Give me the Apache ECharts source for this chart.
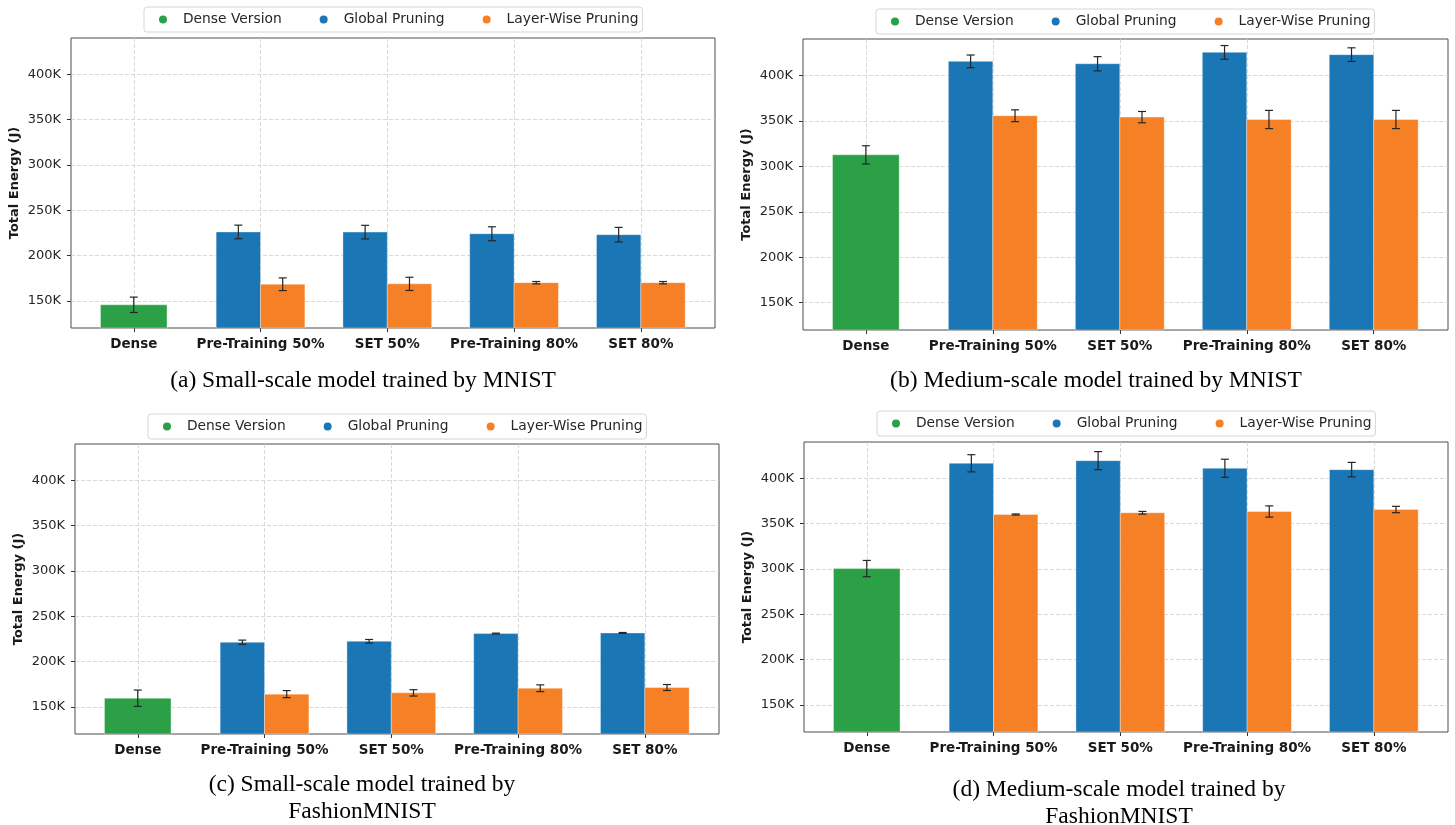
<!DOCTYPE html>
<html>
<head>
<meta charset="utf-8">
<title>Total Energy</title>
<script src="https://cdn.jsdelivr.net/npm/echarts@6/dist/echarts.min.js"></script>
<style>
  html, body { margin: 0; padding: 0; background: #fff; }
  #chart { width: 1455px; height: 825px; }
</style>
</head>
<body>
<div id="chart"></div>
<script>
// Category and tick labels
const categories = ['Dense', 'Pre-Training 50%', 'SET 50%', 'Pre-Training 80%', 'SET 80%'];
const yTicks = [150000, 200000, 250000, 300000, 350000, 400000];
const legendNames = ['Dense Version', 'Global Pruning', 'Layer-Wise Pruning'];

// (a) Small-scale, MNIST
const denseA = [145600];
const denseErrA = [8500];
const globalA = [226000, 225800, 224000, 223000];
const globalErrA = [7500, 7500, 7700, 8000];
const layerA = [168300, 168700, 170000, 170000];
const layerErrA = [7000, 7300, 1300, 1300];

// (b) Medium-scale, MNIST
const denseB = [312600];
const denseErrB = [10000];
const globalB = [415400, 412800, 425300, 422800];
const globalErrB = [7000, 7800, 7500, 7500];
const layerB = [355600, 354100, 351500, 351500];
const layerErrB = [6500, 6200, 10000, 10000];

// (c) Small-scale, FashionMNIST
const denseC = [159500];
const denseErrC = [9000];
const globalC = [221200, 222300, 230800, 231500];
const globalErrC = [2400, 2000, 500, 500];
const layerC = [164000, 165400, 170500, 171300];
const layerErrC = [3900, 3500, 3700, 3300];

// (d) Medium-scale, FashionMNIST
const denseD = [300300];
const denseErrD = [9000];
const globalD = [416500, 419400, 411000, 409500];
const globalErrD = [9500, 10000, 10000, 8000];
const layerD = [360000, 361900, 363300, 365500];
const layerErrD = [600, 1500, 6200, 3500];

const captions = [
  '(a) Small-scale model trained by MNIST',
  '(b) Medium-scale model trained by MNIST',
  '(c) Small-scale model trained by\nFashionMNIST',
  '(d) Medium-scale model trained by\nFashionMNIST'
];

const panels = [
  { dense: denseA, denseErr: denseErrA, global: globalA, globalErr: globalErrA, layer: layerA, layerErr: layerErrA },
  { dense: denseB, denseErr: denseErrB, global: globalB, globalErr: globalErrB, layer: layerB, layerErr: layerErrB },
  { dense: denseC, denseErr: denseErrC, global: globalC, globalErr: globalErrC, layer: layerC, layerErr: layerErrC },
  { dense: denseD, denseErr: denseErrD, global: globalD, globalErr: globalErrD, layer: layerD, layerErr: layerErrD }
];

// Layout of the four panels
const layout = [
  { grid: { left: 71, top: 38, width: 644, height: 290 }, legend: { left: 144, top: 7 }, caption: { x: 363, top: 367 } },
  { grid: { left: 803, top: 39, width: 645, height: 291 }, legend: { left: 876, top: 9 }, caption: { x: 1096, top: 367 } },
  { grid: { left: 75, top: 444, width: 644, height: 290 }, legend: { left: 148, top: 414 }, caption: { x: 362, top: 771 } },
  { grid: { left: 804, top: 442, width: 644, height: 290 }, legend: { left: 877, top: 411 }, caption: { x: 1119, top: 776 } }
];

const colors = { dense: '#2ca046', global: '#1a76b5', layer: '#f58025' };
const FONT = 'DejaVu Sans';
const Y_MIN = 120000, Y_MAX = 440000;
const X_MIN = -0.495, X_MAX = 4.585;
const BAR_W = 0.35;

// Bar with error bar, positioned in axis units
function barWithError(offset, widthUnits) {
  return function (params, api) {
    const x = api.value(0) + offset;
    const v = api.value(1);
    const e = api.value(2);
    const cs = params.coordSys;
    const top = api.coord([x, v]);
    const base = api.coord([x, 0]);
    const w = api.size([widthUnits, 0])[0];
    const rect = echarts.graphic.clipRectByRect(
      { x: top[0] - w / 2, y: top[1], width: w, height: base[1] - top[1] },
      { x: cs.x, y: cs.y, width: cs.width, height: cs.height }
    );
    const hi = api.coord([x, v + e]);
    const lo = api.coord([x, v - e]);
    const cap = 4;
    const errStyle = { stroke: '#262626', lineWidth: 1.2 };
    return {
      type: 'group',
      children: [
        { type: 'rect', shape: rect, style: { fill: api.visual('color'), stroke: 'rgba(255,255,255,0.45)', lineWidth: 0.8 } },
        { type: 'line', shape: { x1: hi[0], y1: hi[1], x2: lo[0], y2: lo[1] }, style: errStyle },
        { type: 'line', shape: { x1: hi[0] - cap, y1: hi[1], x2: hi[0] + cap, y2: hi[1] }, style: errStyle },
        { type: 'line', shape: { x1: lo[0] - cap, y1: lo[1], x2: lo[0] + cap, y2: lo[1] }, style: errStyle }
      ]
    };
  };
}

const option = {
  animation: false,
  backgroundColor: '#ffffff',
  title: [],
  legend: [],
  grid: [],
  xAxis: [],
  yAxis: [],
  series: []
};

panels.forEach(function (p, k) {
  const L = layout[k];
  option.grid.push(Object.assign({ show: true, borderColor: '#4d4d4d', borderWidth: 1, backgroundColor: 'transparent' }, L.grid));

  option.xAxis.push({
    type: 'value', gridIndex: k, min: X_MIN, max: X_MAX, position: 'bottom',
    axisLine: { show: false, onZero: false },
    axisTick: { show: true, length: 4, lineStyle: { color: '#333' }, customValues: [0, 1, 2, 3, 4] },
    axisLabel: {
      customValues: [0, 1, 2, 3, 4],
      formatter: function (v) { return categories[Math.round(v)] || ''; },
      fontFamily: FONT, fontSize: 13.5, fontWeight: 'bold', color: '#1a1a1a', margin: 9
    },
    splitLine: { show: true, lineStyle: { color: '#cfcfcf', type: [4, 2], width: 0.8 } }
  });

  option.yAxis.push({
    type: 'value', gridIndex: k, min: Y_MIN, max: Y_MAX, position: 'left',
    name: 'Total Energy (J)', nameLocation: 'middle', nameGap: 50,
    nameTextStyle: { fontFamily: FONT, fontSize: 13, fontWeight: 'bold', color: '#1a1a1a' },
    axisLine: { show: false, onZero: false },
    axisTick: { show: true, length: 4, lineStyle: { color: '#333' }, customValues: yTicks },
    axisLabel: {
      customValues: yTicks,
      formatter: function (v) { return (v / 1000) + 'K'; },
      fontFamily: FONT, fontSize: 13, color: '#262626', margin: 10
    },
    splitLine: { show: true, lineStyle: { color: '#cfcfcf', type: [4, 2], width: 0.8 } }
  });

  option.legend.push({
    data: legendNames,
    left: L.legend.left, top: L.legend.top,
    orient: 'horizontal',
    icon: 'circle', itemWidth: 8, itemHeight: 8, itemGap: 38,
    padding: [5.5, 4, 5.5, 15],
    borderColor: '#d6d6d6', borderWidth: 1, borderRadius: 3,
    backgroundColor: '#ffffff',
    selectedMode: false,
    textStyle: { fontFamily: FONT, fontSize: 13.8, color: '#262626', padding: [0, 0, 0, 11] }
  });

  option.title.push({
    text: captions[k],
    left: L.caption.x, top: L.caption.top,
    textAlign: 'center', padding: 0,
    textStyle: { fontFamily: 'Liberation Serif', fontSize: 23.5, fontWeight: 'normal', color: '#000', lineHeight: 27 }
  });

  const denseData = p.dense.map(function (v, i) { return [i, v, p.denseErr[i]]; });
  const globalData = p.global.map(function (v, i) { return [i + 1, v, p.globalErr[i]]; });
  const layerData = p.layer.map(function (v, i) { return [i + 1, v, p.layerErr[i]]; });

  option.series.push({
    type: 'custom', name: legendNames[0], xAxisIndex: k, yAxisIndex: k,
    itemStyle: { color: colors.dense },
    renderItem: barWithError(0, BAR_W * 1.5),
    encode: { x: 0, y: 1 }, data: denseData, silent: true
  });
  option.series.push({
    type: 'custom', name: legendNames[1], xAxisIndex: k, yAxisIndex: k,
    itemStyle: { color: colors.global },
    renderItem: barWithError(-BAR_W / 2, BAR_W),
    encode: { x: 0, y: 1 }, data: globalData, silent: true
  });
  option.series.push({
    type: 'custom', name: legendNames[2], xAxisIndex: k, yAxisIndex: k,
    itemStyle: { color: colors.layer },
    renderItem: barWithError(BAR_W / 2, BAR_W),
    encode: { x: 0, y: 1 }, data: layerData, silent: true
  });
});

const chart = echarts.init(document.getElementById('chart'), null, { renderer: 'canvas' });
chart.setOption(option);
</script>
</body>
</html>
